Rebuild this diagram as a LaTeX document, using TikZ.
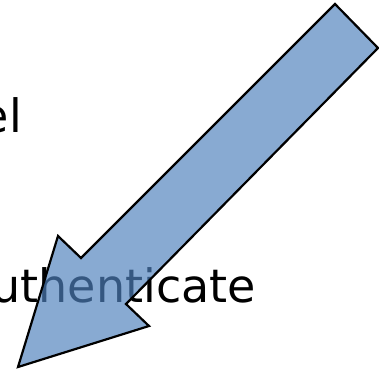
\documentclass[tikz,border=0pt]{standalone}
\usepackage{fontspec}
\setmainfont{DejaVu Sans}
\definecolor{arrowblue}{RGB}{79,129,189}
\begin{document}
\begin{tikzpicture}[x=1pt,y=-1pt,
    label text/.style={inner sep=0pt, anchor=base east, font=\fontsize{46}{50}\selectfont},
    big arrow/.style={draw=black, line width=2.2pt, line join=miter, fill=arrowblue, fill opacity=0.68}]
  \useasboundingbox (0,0) rectangle (379,370);
  \node[label text] (tunnel) at (22,132) {el};
  \node[label text] (auth) at (256,302) {uthenticate};
  \draw[big arrow] (335,4) -- (378,48) -- (126,304) -- (149,326)
    -- (18,367) -- (58,236) -- (81,258) -- cycle;
\end{tikzpicture}
\end{document}
